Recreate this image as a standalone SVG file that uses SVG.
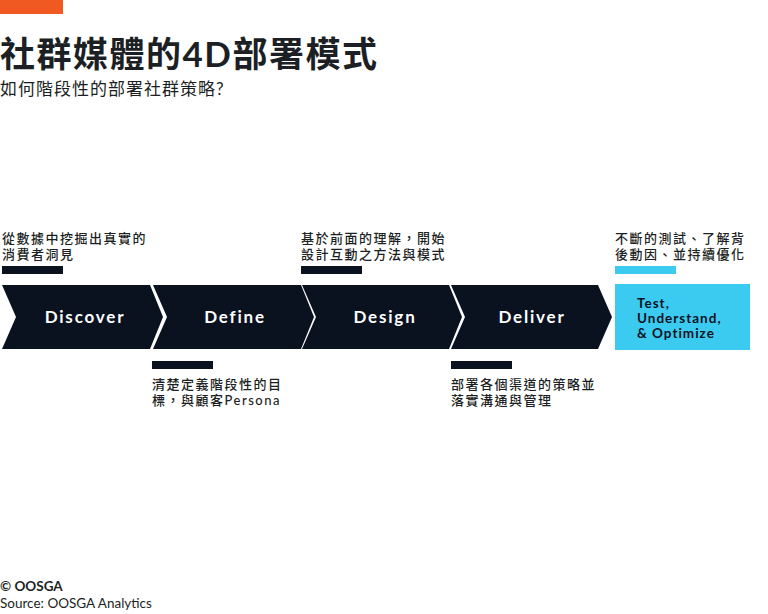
<svg xmlns="http://www.w3.org/2000/svg" width="768" height="614" viewBox="0 0 768 614">
<style>
.cjk{font-family:Lato,"Noto Sans CJK TC","Noto Sans",sans-serif;fill:#1c1f24}
.ann{font-size:13px;letter-spacing:1.5px;font-weight:500}
.lbl{font-family:Lato,"Noto Sans",sans-serif;font-weight:700;font-size:17px;letter-spacing:1.8px;fill:#ffffff;text-anchor:middle}
.chev{fill:#0a111f}
.bar{fill:#0a111f}
.cyan{fill:#3ccbf0}
.box{font-family:Lato,"Noto Sans",sans-serif;font-weight:700;font-size:13.5px;letter-spacing:1px;fill:#0a111f}
.foot{font-family:Lato,"Noto Sans",sans-serif;font-size:13.5px;fill:#1c1f24}
</style>
<rect width="768" height="614" fill="#ffffff"/>
<rect x="0" y="0" width="63" height="14" fill="#f05a22"/>
<text class="cjk" x="0" y="67" font-size="35" font-weight="700" letter-spacing="1.5">社群媒體的4D部署模式</text>
<text class="cjk" x="0" y="95" font-size="17" letter-spacing="1">如何階段性的部署社群策略?</text>

<g id="discover">
<path class="chev" d="M2,285 L150,285 L163,317 L150,349 L2,349 L16,317 Z"/>
<text class="lbl" x="85" y="323">Discover</text>
<text class="cjk ann" x="2" y="243">從數據中挖掘出真實的</text>
<text class="cjk ann" x="2" y="259">消費者洞見</text>
<rect class="bar" x="2" y="266" width="61" height="8"/>
</g>
<g id="define">
<path class="chev" d="M153,285 L301,285 L314,317 L301,349 L153,349 L167,317 Z"/>
<text class="lbl" x="235" y="323">Define</text>
<rect class="bar" x="152" y="361" width="61" height="8"/>
<text class="cjk ann" x="152" y="389">清楚定義階段性的目</text>
<text class="cjk ann" x="152" y="405">標，與顧客Persona</text>
</g>
<g id="design">
<path class="chev" d="M302,285 L449,285 L462,317 L449,349 L302,349 L316,317 Z"/>
<text class="lbl" x="385" y="323">Design</text>
<text class="cjk ann" x="301" y="243">基於前面的理解，開始</text>
<text class="cjk ann" x="301" y="259">設計互動之方法與模式</text>
<rect class="bar" x="301" y="266" width="61" height="8"/>
</g>
<g id="deliver">
<path class="chev" d="M451,285 L598,285 L612,317 L598,349 L451,349 L465,317 Z"/>
<text class="lbl" x="532" y="323">Deliver</text>
<rect class="bar" x="451" y="361" width="61" height="8"/>
<text class="cjk ann" x="451" y="389">部署各個渠道的策略並</text>
<text class="cjk ann" x="451" y="405">落實溝通與管理</text>
</g>
<g id="test">
<rect class="cyan" x="615" y="284" width="135" height="66"/>
<text class="box" x="637" y="308">Test,</text>
<text class="box" x="637" y="323">Understand,</text>
<text class="box" x="637" y="338">&amp; Optimize</text>
<text class="cjk ann" x="615" y="243">不斷的測試、了解背</text>
<text class="cjk ann" x="615" y="259">後動因、並持續優化</text>
<rect class="cyan" x="615" y="266" width="61" height="8"/>
</g>
<g id="connectors"></g>

<text class="foot" x="0" y="591" font-weight="700">© OOSGA</text>
<text class="foot" x="0" y="608">Source: OOSGA Analytics</text>
</svg>
